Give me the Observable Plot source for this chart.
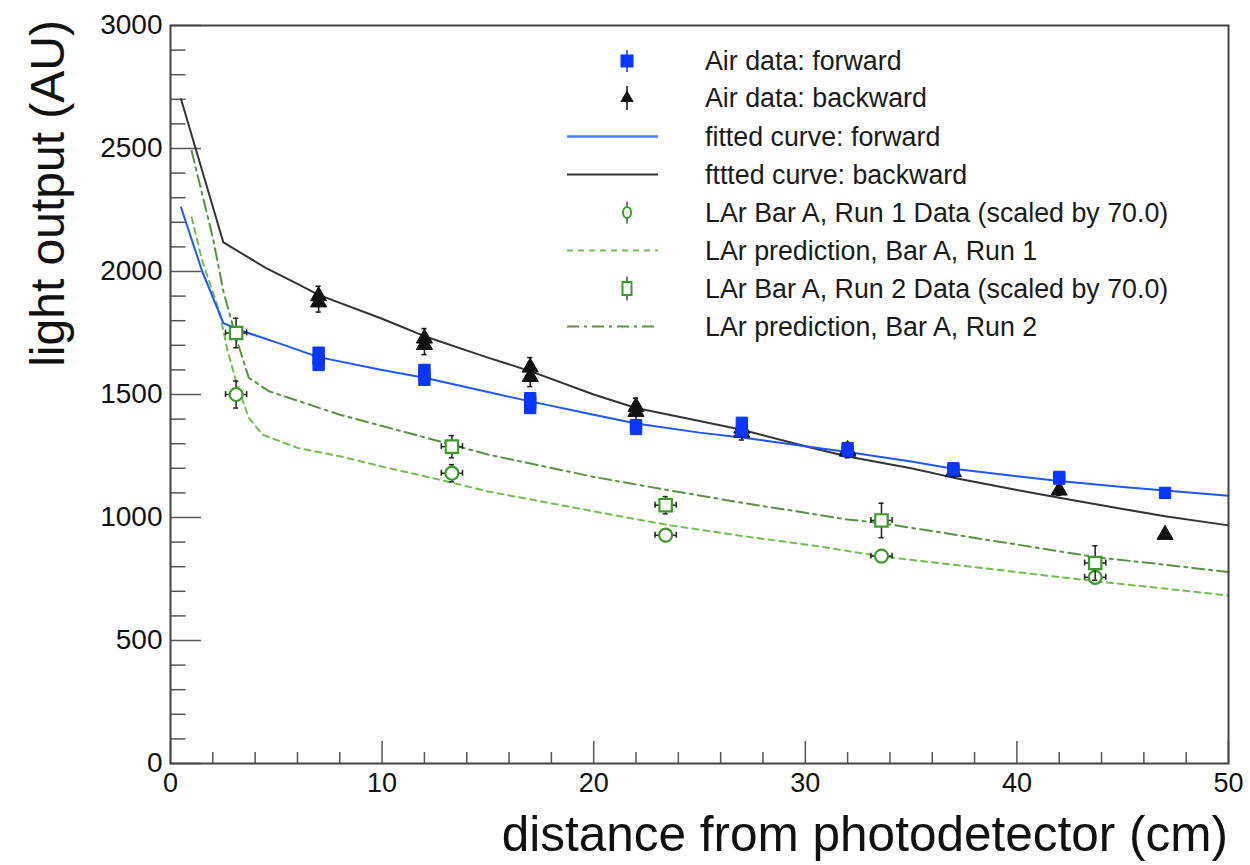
<!DOCTYPE html>
<html><head><meta charset="utf-8">
<script src="https://cdn.jsdelivr.net/npm/d3@7"></script>
<script src="https://cdn.jsdelivr.net/npm/@observablehq/plot@0.6"></script>
<style>
html,body{margin:0;padding:0;background:#fff;}
#wrap{position:relative;width:1250px;height:865px;overflow:hidden;}
#wrap svg{position:absolute;left:0;top:0;}
</style></head><body><div id="wrap"></div>
<script>
// ---------- data ----------
const xMajor = [0, 10, 20, 30, 40, 50];
const xMinor = [2,4,6,8,12,14,16,18,22,24,26,28,32,34,36,38,42,44,46,48];
const yMajor = [0, 500, 1000, 1500, 2000, 2500, 3000];
const yMinor = [100,200,300,400,600,700,800,900,1100,1200,1300,1400,1600,1700,1800,1900,2100,2200,2300,2400,2600,2700,2800,2900];

// Air data: forward (blue squares)
const fwdX = [7,7,7,12,12,12,17,17,17,22,22,27,27,32,32,37,37,42,42,47];
const fwdY = [1670,1645,1620,1600,1580,1560,1485,1465,1445,1375,1360,1385,1350,1282,1270,1200,1192,1165,1158,1100];
const fwdErr = [20,20,20,20,20,20,20,20,20,18,18,18,18,15,15,15,15,15,15,15];
// Air data: backward (black triangles)
const bwdX = [7,7,12,12,17,17,22,22,27,27,32,32,37,42,47];
const bwdY = [1900,1875,1728,1702,1610,1572,1450,1430,1362,1345,1275,1268,1185,1110,930];
const bwdErr = [40,40,40,40,40,40,35,35,30,30,25,25,20,20,15];

// fitted curves
const fitFwdX = [0.5,1.5,2.5,3.5,5,7,10,12,15,17,20,22,25,27,30,32,35,37,40,42,45,47,50];
const fitFwdY = [2260,2000,1790,1755,1712,1652,1600,1568,1510,1472,1418,1382,1345,1325,1290,1266,1228,1198,1168,1148,1124,1110,1088];
const fitBwdX = [0.5,2.5,4.5,6,7,10,12,15,17,20,22,25,27,30,32,35,37,40,42,45,47,50];
const fitBwdY = [2700,2118,2015,1950,1905,1808,1737,1650,1595,1500,1445,1392,1357,1290,1248,1200,1162,1112,1080,1035,1005,968];

// LAr data (scaled by 70.0)
const run1X = [3.1, 13.3, 23.4, 33.6, 43.7];
const run1Y = [1500, 1180, 928, 843, 757];
const run1Err = [55, 35, 22, 15, 25];
const run2X = [3.1, 13.3, 23.4, 33.6, 43.7];
const run2Y = [1750, 1288, 1050, 988, 815];
const run2Err = [60, 45, 35, 70, 70];
const larXErr = 0.5;

// LAr predictions
const pred1X = [1,1.5,2.3,2.7,3.1,3.7,4.35,6,8,10.3,12.7,15,20,23.4,27,30.7,33.6,37,40,43.8,47,50];
const pred1Y = [2220,2043,1840,1677,1554,1405,1337,1283,1249,1201,1154,1106,1025,971,925,882,842,808,778,740,711,683];
const pred2X = [1,2,2.5,3.1,3.7,4.66,6,8,12.7,15,20,23.4,27,32,33.6,37,40,43.8,47,50];
const pred2Y = [2490,2138,1920,1730,1568,1513,1475,1418,1310,1256,1165,1113,1060,992,977,931,890,838,808,778];

const legendLabels = [
  "Air data: forward",
  "Air data: backward",
  "fitted curve: forward",
  "fttted curve: backward",
  "LAr Bar A, Run 1 Data (scaled by 70.0)",
  "LAr prediction, Bar A, Run 1",
  "LAr Bar A, Run 2 Data (scaled by 70.0)",
  "LAr prediction, Bar A, Run 2"
];
const xTitle = "distance from photodetector (cm)";
const yTitle = "light output (AU)";

// ---------- styles ----------
const BLUE = "#1f57ff", BLUE_MK = "#0a36ff", BLACK = "#111";
const GREEN_D = "#74bd52", GREEN_DD = "#5a9244", GREEN_MK = "#3f9a2e";
const FONT = "'Liberation Sans', Arial, Helvetica, sans-serif";

const W = 1250, H = 865, ML = 170, MR = 22, MT = 25, MB = 102;
const PW = W - ML - MR, PH = H - MT - MB;

const zip = (xs, ys, es) => xs.map((x, i) => ({x, y: ys[i], e: es ? es[i] : 0}));
const fwd = zip(fwdX, fwdY, fwdErr), bwd = zip(bwdX, bwdY, bwdErr);
const fitF = zip(fitFwdX, fitFwdY), fitB = zip(fitBwdX, fitBwdY);
const r1 = zip(run1X, run1Y, run1Err), r2 = zip(run2X, run2Y, run2Err);
const p1 = zip(pred1X, pred1Y), p2 = zip(pred2X, pred2Y);

function errMarks(data, color, capHalf) {
  return [
    Plot.ruleX(data, {x: "x", y1: d => d.y - d.e, y2: d => d.y + d.e, stroke: color, strokeWidth: 1.5}),
    Plot.ruleY(data, {y: d => d.y + d.e, x1: d => d.x - capHalf, x2: d => d.x + capHalf, stroke: color, strokeWidth: 1.5}),
    Plot.ruleY(data, {y: d => d.y - d.e, x1: d => d.x - capHalf, x2: d => d.x + capHalf, stroke: color, strokeWidth: 1.5})
  ];
}
function larErr(data) {
  return [
    ...errMarks(data, "#222", 0.12),
    Plot.ruleY(data, {y: "y", x1: d => d.x - larXErr, x2: d => d.x + larXErr, stroke: "#222", strokeWidth: 1.5}),
    Plot.ruleX(data, {x: d => d.x - larXErr, y1: d => d.y - 12, y2: d => d.y + 12, stroke: "#222", strokeWidth: 1.5}),
    Plot.ruleX(data, {x: d => d.x + larXErr, y1: d => d.y - 12, y2: d => d.y + 12, stroke: "#222", strokeWidth: 1.5})
  ];
}

const chart = Plot.plot({
  width: W, height: H,
  marginLeft: ML, marginRight: MR, marginTop: MT, marginBottom: MB,
  style: {fontFamily: FONT, background: "#fff", color: "#111"},
  x: {domain: [0, 50]},
  y: {domain: [0, 3000]},
  marks: [
    // inward ticks
    Plot.tickY(yMinor, {insetRight: PW - 15.5, stroke: "#555", strokeWidth: 1.5}),
    Plot.tickY(yMajor, {insetRight: PW - 31, stroke: "#555", strokeWidth: 1.5}),
    Plot.tickX(xMinor, {insetTop: PH - 11, stroke: "#555", strokeWidth: 1.5}),
    Plot.tickX(xMajor, {insetTop: PH - 22, stroke: "#555", strokeWidth: 1.5}),
    // curves
    Plot.line(p1, {x: "x", y: "y", stroke: GREEN_D, strokeWidth: 2, strokeDasharray: "6,5"}),
    Plot.line(p2, {x: "x", y: "y", stroke: GREEN_DD, strokeWidth: 2, strokeDasharray: "12,5,3,5"}),
    Plot.line(fitB, {x: "x", y: "y", stroke: "#333", strokeWidth: 2}),
    Plot.line(fitF, {x: "x", y: "y", stroke: BLUE, strokeWidth: 2}),
    // air data
    ...errMarks(bwd, BLACK, 0.12),
    Plot.dot(bwd, {x: "x", y: "y", symbol: "triangle", r: 6, fill: BLACK, stroke: BLACK, strokeWidth: 1}),
    ...errMarks(fwd, BLUE_MK, 0.1),
    Plot.dot(fwd, {x: "x", y: "y", symbol: "square", r: 6.4, fill: BLUE_MK, stroke: BLUE_MK, strokeWidth: 1}),
    // LAr data
    ...larErr(r1),
    Plot.dot(r1, {x: "x", y: "y", symbol: "circle", r: 6.5, fill: "#fff", stroke: GREEN_MK, strokeWidth: 2.2}),
    ...larErr(r2),
    Plot.dot(r2, {x: "x", y: "y", symbol: "square", r: 7, fill: "#fff", stroke: GREEN_MK, strokeWidth: 2.2}),
    // frame and axes
    Plot.frame({stroke: "#444", strokeWidth: 2}),
    Plot.axisY(yMajor, {tickSize: 0, tickPadding: 8, fontSize: 28, label: null, tickFormat: d => String(d)}),
    Plot.axisX(xMajor, {tickSize: 0, tickPadding: 9, fontSize: 27, label: null, tickFormat: d => String(d)})
  ]
});
document.getElementById("wrap").appendChild(chart);

// ---------- overlay: titles and legend ----------
const ov = d3.select("#wrap").append("svg")
  .attr("width", W).attr("height", H)
  .style("pointer-events", "none")
  .style("font-family", FONT);

ov.append("text").text(xTitle)
  .attr("x", W - MR).attr("y", 851)
  .attr("text-anchor", "end").attr("font-size", 49.5).attr("fill", "#111");

ov.append("text").text(yTitle)
  .attr("transform", "translate(64,20) rotate(-90)")
  .attr("text-anchor", "end").attr("font-size", 48).attr("fill", "#111");

const rowY = [61, 98, 136.5, 174.5, 212.5, 250.5, 288.5, 326.5];
const symX = 627, lineX1 = 567, lineX2 = 658, textX = 705;
const lg = ov.append("g");
legendLabels.forEach((t, i) => {
  lg.append("text").text(t).attr("x", textX).attr("y", rowY[i])
    .attr("dy", "0.35em").attr("font-size", 26.8).attr("fill", "#1a1a1a");
});
// 1 blue square
lg.append("line").attr("x1", symX).attr("x2", symX).attr("y1", rowY[0] - 11).attr("y2", rowY[0] + 11).attr("stroke", BLUE_MK).attr("stroke-width", 1.5);
lg.append("rect").attr("x", symX - 6.5).attr("y", rowY[0] - 6.5).attr("width", 13).attr("height", 13).attr("fill", BLUE_MK);
// 2 black triangle
lg.append("line").attr("x1", symX).attr("x2", symX).attr("y1", rowY[1] - 12).attr("y2", rowY[1] + 12).attr("stroke", BLACK).attr("stroke-width", 1.5);
lg.append("path").attr("d", d3.symbol(d3.symbolTriangle, 80)()).attr("transform", `translate(${symX},${rowY[1]})`).attr("fill", BLACK);
// 3,4 lines
lg.append("line").attr("x1", lineX1).attr("x2", lineX2).attr("y1", rowY[2]).attr("y2", rowY[2]).attr("stroke", "#4f7dff").attr("stroke-width", 2.5);
lg.append("line").attr("x1", lineX1).attr("x2", lineX2).attr("y1", rowY[3]).attr("y2", rowY[3]).attr("stroke", "#333").attr("stroke-width", 2);
// 5 green circle
lg.append("line").attr("x1", symX).attr("x2", symX).attr("y1", rowY[4] - 11).attr("y2", rowY[4] + 11).attr("stroke", "#333").attr("stroke-width", 1.3);
lg.append("ellipse").attr("cx", symX).attr("cy", rowY[4]).attr("rx", 4).attr("ry", 5.5).attr("fill", "#fff").attr("stroke", GREEN_MK).attr("stroke-width", 2);
// 6 dashed
lg.append("line").attr("x1", lineX1).attr("x2", lineX2).attr("y1", rowY[5]).attr("y2", rowY[5]).attr("stroke", GREEN_D).attr("stroke-width", 2).attr("stroke-dasharray", "6,5");
// 7 green square
lg.append("line").attr("x1", symX).attr("x2", symX).attr("y1", rowY[6] - 12).attr("y2", rowY[6] + 12).attr("stroke", "#333").attr("stroke-width", 1.3);
lg.append("rect").attr("x", symX - 4.5).attr("y", rowY[6] - 6.5).attr("width", 9).attr("height", 13).attr("fill", "#fff").attr("stroke", GREEN_MK).attr("stroke-width", 2);
// 8 dash-dot
lg.append("line").attr("x1", lineX1).attr("x2", lineX2).attr("y1", rowY[7]).attr("y2", rowY[7]).attr("stroke", GREEN_DD).attr("stroke-width", 2).attr("stroke-dasharray", "12,5,3,5");
</script>
</body></html>
